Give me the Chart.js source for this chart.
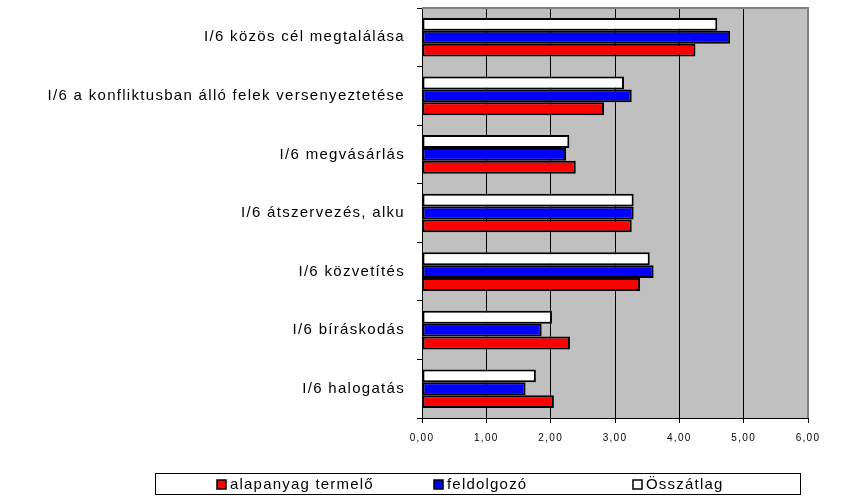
<!DOCTYPE html>
<html>
<head>
<meta charset="utf-8">
<script src="https://cdn.jsdelivr.net/npm/chart.js@4/dist/chart.umd.min.js"></script>
<style>
  html, body { margin: 0; padding: 0; background: #fff; }
  #wrap { width: 841px; height: 498px; }
</style>
</head>
<body>
<div id="wrap"><canvas id="chart" width="841" height="498"></canvas></div>
<script>
// adatok
const kategoriak = [
    'I/6 közös cél megtalálása',
    'I/6 a konfliktusban álló felek versenyeztetése',
    'I/6 megvásárlás',
    'I/6 átszervezés, alku',
    'I/6 közvetítés',
    'I/6 bíráskodás',
    'I/6 halogatás'
];
const alapanyagTermelo = [4.25, 2.83, 2.39, 3.26, 3.39, 2.30, 2.05];
const feldolgozo = [4.79, 3.26, 2.24, 3.29, 3.60, 1.86, 1.61];
const osszatlag = [4.59, 3.14, 2.29, 3.29, 3.54, 2.02, 1.77];
const xTickCimkek = ['0,00', '1,00', '2,00', '3,00', '4,00', '5,00', '6,00'];

const betu = '"Liberation Sans", Arial, sans-serif';

// szürke háttér + felső/jobb keret
const hatterPlugin = {
    id: 'hatter',
    beforeDraw(chart) {
        const a = chart.chartArea, ctx = chart.ctx;
        ctx.letterSpacing = '1.3px';
        ctx.save();
        ctx.fillStyle = '#C0C0C0';
        ctx.fillRect(a.left, a.top, a.right - a.left, a.bottom - a.top);
        ctx.restore();
    },
    afterDraw(chart) {
        const a = chart.chartArea, ctx = chart.ctx;
        ctx.save();
        ctx.strokeStyle = '#808080';
        ctx.lineWidth = 2;
        ctx.beginPath();
        ctx.moveTo(a.left, a.top);
        ctx.lineTo(a.right, a.top);
        ctx.lineTo(a.right, a.bottom);
        ctx.stroke();
        ctx.restore();
    }
};

// jelmagyarázat keretben, alul
const jelmagyarazatPlugin = {
    id: 'jelmagyarazat',
    afterDraw(chart) {
        const ctx = chart.ctx;
        const elemek = [
            { szoveg: 'alapanyag termelő', szin: '#FF0000', x: 217 },
            { szoveg: 'feldolgozó', szin: '#0000FF', x: 434 },
            { szoveg: 'Összátlag', szin: '#FFFFFF', x: 633 }
        ];
        ctx.save();
        ctx.strokeStyle = '#000';
        ctx.lineWidth = 1;
        ctx.strokeRect(155.5, 473.5, 645, 21);
        ctx.font = '15px ' + betu;
        ctx.letterSpacing = '1.2px';
        ctx.textBaseline = 'middle';
        elemek.forEach(e => {
            ctx.fillStyle = e.szin;
            ctx.fillRect(e.x, 480, 9, 9);
            ctx.lineWidth = 1.5;
            ctx.strokeStyle = '#000';
            ctx.strokeRect(e.x, 480, 9, 9);
            ctx.fillStyle = '#000';
            ctx.fillText(e.szoveg, e.x + 13, 485);
        });
        ctx.restore();
    }
};

new Chart(document.getElementById('chart'), {
    type: 'bar',
    data: {
        labels: kategoriak,
        datasets: [
            { label: 'Összátlag', data: osszatlag, backgroundColor: '#FFFFFF' },
            { label: 'feldolgozó', data: feldolgozo, backgroundColor: '#0000FF' },
            { label: 'alapanyag termelő', data: alapanyagTermelo, backgroundColor: '#FF0000' }
        ].map(d => Object.assign(d, {
            borderColor: '#000',
            borderWidth: 2,
            borderSkipped: false,
            categoryPercentage: 0.66,
            barPercentage: 1
        }))
    },
    options: {
        indexAxis: 'y',
        responsive: false,
        animation: false,
        layout: { padding: { left: 0, top: 8, right: 33, bottom: 50 } },
        plugins: {
            legend: { display: false },
            tooltip: { enabled: false }
        },
        scales: {
            x: {
                min: 0,
                max: 6,
                ticks: {
                    stepSize: 1,
                    padding: 9,
                    color: '#000',
                    font: { family: betu, size: 10 },
                    callback: (v, i) => xTickCimkek[i]
                },
                grid: { color: '#000', lineWidth: 1, tickLength: 5 },
                border: { color: '#000', width: 1 },
                afterFit(scale) { scale.height = 30; }
            },
            y: {
                ticks: {
                    padding: 12,
                    color: '#000',
                    font: { family: betu, size: 15 }
                },
                grid: { offset: true, drawOnChartArea: false, color: '#000', tickLength: 5 },
                border: { color: '#000', width: 1 },
                afterFit(scale) {
                    scale.width = 422;
                    scale.paddingTop = 0;
                    scale.paddingBottom = 0;
                }
            }
        }
    },
    plugins: [hatterPlugin, jelmagyarazatPlugin]
});
</script>
</body>
</html>
